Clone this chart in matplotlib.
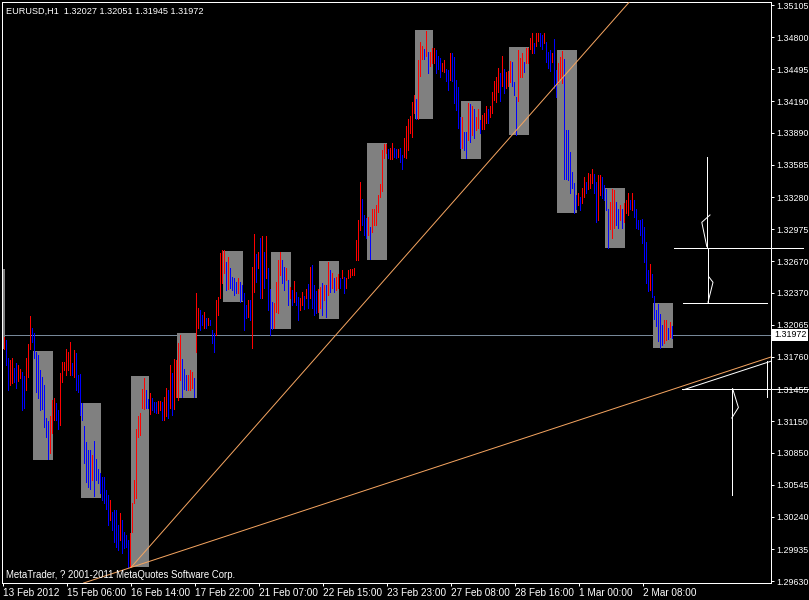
import numpy as np
import matplotlib
matplotlib.use('Agg')
import matplotlib.pyplot as plt
from matplotlib.patches import Rectangle
from matplotlib.transforms import blended_transform_factory

plt.rcParams['font.family'] = ['Liberation Sans', 'DejaVu Sans']

# hourly bars EURUSD H1 (highs / lows), index 0 = first visible bar
highs = [
    1.3195, 1.3192, 1.3175, 1.3173, 1.3175, 1.3166, 1.3170, 1.3168, 1.3165, 1.3162,
    1.3158, 1.3175, 1.3188, 1.3215, 1.3204, 1.3199, 1.3181, 1.3178, 1.3164, 1.3157,
    1.3149, 1.3118, 1.3115, 1.3120, 1.3135, 1.3137, 1.3132, 1.3126, 1.3161, 1.3171,
    1.3171, 1.3184, 1.3181, 1.3190, 1.3170, 1.3183, 1.3180, 1.3159, 1.3160, 1.3132,
    1.3110, 1.3095, 1.3088, 1.3088, 1.3083, 1.3096, 1.3079, 1.3070, 1.3066, 1.3062,
    1.3062, 1.3050, 1.3045, 1.3040, 1.3029, 1.3031, 1.3031, 1.3016, 1.3028, 1.3021,
    1.3010, 1.3007, 1.3002, 1.3009, 1.3037, 1.3059, 1.3108, 1.3120, 1.3123, 1.3146,
    1.3156, 1.3145, 1.3136, 1.3142, 1.3137, 1.3133, 1.3133, 1.3134, 1.3134, 1.3133,
    1.3138, 1.3147, 1.3145, 1.3168, 1.3161, 1.3174, 1.3173, 1.3189, 1.3197, 1.3174,
    1.3165, 1.3159, 1.3159, 1.3164, 1.3162, 1.3156, 1.3237, 1.3223, 1.3221, 1.3216,
    1.3219, 1.3213, 1.3213, 1.3211, 1.3202, 1.3199, 1.3230, 1.3233, 1.3275, 1.3278,
    1.3278, 1.3266, 1.3271, 1.3261, 1.3252, 1.3251, 1.3247, 1.3251, 1.3247, 1.3244,
    1.3237, 1.3225, 1.3230, 1.3230, 1.3262, 1.3293, 1.3274, 1.3276, 1.3289, 1.3291,
    1.3276, 1.3291, 1.3261, 1.3241, 1.3228, 1.3227, 1.3247, 1.3268, 1.3276, 1.3268,
    1.3262, 1.3261, 1.3249, 1.3243, 1.3240, 1.3248, 1.3238, 1.3233, 1.3232, 1.3238,
    1.3234, 1.3241, 1.3245, 1.3262, 1.3263, 1.3244, 1.3239, 1.3241, 1.3243, 1.3246,
    1.3244, 1.3244, 1.3266, 1.3259, 1.3256, 1.3251, 1.3252, 1.3255, 1.3251, 1.3259,
    1.3252, 1.3251, 1.3259, 1.3260, 1.3260, 1.3261, 1.3287, 1.3306, 1.3342, 1.3326,
    1.3311, 1.3308, 1.3309, 1.3300, 1.3317, 1.3317, 1.3320, 1.3330, 1.3340, 1.3373,
    1.3378, 1.3378, 1.3374, 1.3375, 1.3379, 1.3375, 1.3374, 1.3374, 1.3375, 1.3368,
    1.3384, 1.3396, 1.3402, 1.3405, 1.3418, 1.3425, 1.3421, 1.3458, 1.3475, 1.3472,
    1.3469, 1.3486, 1.3466, 1.3466, 1.3470, 1.3470, 1.3468, 1.3462, 1.3460, 1.3455,
    1.3458, 1.3450, 1.3449, 1.3465, 1.3465, 1.3461, 1.3439, 1.3433, 1.3404, 1.3404,
    1.3390, 1.3390, 1.3417, 1.3416, 1.3415, 1.3412, 1.3404, 1.3412, 1.3401, 1.3406,
    1.3408, 1.3415, 1.3412, 1.3415, 1.3428, 1.3438, 1.3442, 1.3451, 1.3446, 1.3462,
    1.3450, 1.3447, 1.3448, 1.3457, 1.3456, 1.3437, 1.3423, 1.3468, 1.3460, 1.3465,
    1.3456, 1.3470, 1.3470, 1.3479, 1.3484, 1.3474, 1.3484, 1.3484, 1.3484, 1.3482,
    1.3484, 1.3475, 1.3466, 1.3468, 1.3465, 1.3478, 1.3449, 1.3455, 1.3461, 1.3467,
    1.3459, 1.3392, 1.3392, 1.3371, 1.3352, 1.3341, 1.3330, 1.3332, 1.3328, 1.3337,
    1.3347, 1.3342, 1.3351, 1.3350, 1.3355, 1.3350, 1.3342, 1.3349, 1.3349, 1.3347,
    1.3339, 1.3336, 1.3317, 1.3323, 1.3336, 1.3335, 1.3323, 1.3317, 1.3320, 1.3317,
    1.3322, 1.3325, 1.3332, 1.3325, 1.3332, 1.3325, 1.3317, 1.3306, 1.3306, 1.3307,
    1.3300, 1.3285, 1.3259, 1.3264, 1.3255, 1.3234, 1.3221, 1.3226, 1.3217, 1.3206,
    1.3211, 1.3211, 1.3204, 1.3209, 1.32051]
lows = [
    1.3184, 1.3168, 1.3145, 1.3149, 1.3151, 1.3152, 1.3147, 1.3153, 1.3156, 1.3126,
    1.3128, 1.3145, 1.3157, 1.3184, 1.3190, 1.3175, 1.3143, 1.3137, 1.3126, 1.3127,
    1.3109, 1.3100, 1.3079, 1.3085, 1.3104, 1.3116, 1.3116, 1.3108, 1.3111, 1.3152,
    1.3164, 1.3159, 1.3164, 1.3159, 1.3159, 1.3157, 1.3145, 1.3143, 1.3121, 1.3116,
    1.3075, 1.3057, 1.3052, 1.3051, 1.3059, 1.3044, 1.3059, 1.3056, 1.3047, 1.3040,
    1.3037, 1.3032, 1.3016, 1.3021, 1.3012, 1.3000, 1.2995, 1.2993, 1.3002, 1.2990,
    1.2994, 1.2995, 1.2976, 1.2976, 1.3010, 1.3037, 1.3042, 1.3100, 1.3102, 1.3128,
    1.3127, 1.3128, 1.3128, 1.3122, 1.3126, 1.3124, 1.3123, 1.3123, 1.3126, 1.3116,
    1.3116, 1.3120, 1.3118, 1.3128, 1.3121, 1.3127, 1.3138, 1.3135, 1.3154, 1.3138,
    1.3146, 1.3145, 1.3145, 1.3145, 1.3147, 1.3138, 1.3181, 1.3204, 1.3202, 1.3206,
    1.3204, 1.3204, 1.3206, 1.3206, 1.3189, 1.3181, 1.3197, 1.3216, 1.3232, 1.3246,
    1.3256, 1.3240, 1.3241, 1.3242, 1.3240, 1.3235, 1.3237, 1.3237, 1.3228, 1.3230,
    1.3202, 1.3213, 1.3214, 1.3211, 1.3185, 1.3238, 1.3247, 1.3261, 1.3232, 1.3232,
    1.3242, 1.3251, 1.3221, 1.3197, 1.3203, 1.3204, 1.3219, 1.3218, 1.3254, 1.3246,
    1.3240, 1.3249, 1.3225, 1.3232, 1.3225, 1.3228, 1.3225, 1.3211, 1.3221, 1.3225,
    1.3222, 1.3232, 1.3223, 1.3232, 1.3223, 1.3216, 1.3218, 1.3219, 1.3223, 1.3216,
    1.3230, 1.3214, 1.3235, 1.3238, 1.3242, 1.3238, 1.3240, 1.3242, 1.3242, 1.3251,
    1.3237, 1.3242, 1.3251, 1.3252, 1.3254, 1.3254, 1.3268, 1.3268, 1.3297, 1.3301,
    1.3292, 1.3289, 1.3292, 1.3269, 1.3295, 1.3301, 1.3301, 1.3314, 1.3328, 1.3334,
    1.3365, 1.3370, 1.3365, 1.3364, 1.3364, 1.3366, 1.3365, 1.3366, 1.3361, 1.3355,
    1.3366, 1.3365, 1.3373, 1.3389, 1.3385, 1.3408, 1.3402, 1.3402, 1.3443, 1.3459,
    1.3459, 1.3462, 1.3446, 1.3453, 1.3455, 1.3455, 1.3446, 1.3450, 1.3442, 1.3448,
    1.3447, 1.3438, 1.3430, 1.3439, 1.3438, 1.3417, 1.3411, 1.3394, 1.3375, 1.3375,
    1.3373, 1.3365, 1.3382, 1.3380, 1.3387, 1.3384, 1.3392, 1.3394, 1.3389, 1.3393,
    1.3393, 1.3398, 1.3398, 1.3404, 1.3408, 1.3420, 1.3418, 1.3428, 1.3419, 1.3434,
    1.3427, 1.3432, 1.3434, 1.3437, 1.3434, 1.3425, 1.3387, 1.3419, 1.3442, 1.3442,
    1.3447, 1.3455, 1.3455, 1.3469, 1.3465, 1.3465, 1.3472, 1.3476, 1.3472, 1.3469,
    1.3474, 1.3456, 1.3451, 1.3448, 1.3456, 1.3432, 1.3423, 1.3436, 1.3441, 1.3436,
    1.3345, 1.3345, 1.3344, 1.3332, 1.3337, 1.3313, 1.3317, 1.3320, 1.3316, 1.3322,
    1.3328, 1.3332, 1.3336, 1.3337, 1.3341, 1.3332, 1.3304, 1.3306, 1.3330, 1.3327,
    1.3325, 1.3316, 1.3280, 1.3298, 1.3289, 1.3299, 1.3301, 1.3299, 1.3306, 1.3299,
    1.3304, 1.3313, 1.3311, 1.3317, 1.3316, 1.3309, 1.3299, 1.3298, 1.3292, 1.3284,
    1.3266, 1.3246, 1.3239, 1.3240, 1.3233, 1.3212, 1.3205, 1.3191, 1.3185, 1.3187,
    1.3189, 1.3192, 1.3193, 1.3195, 1.31945]

# session boxes: first bar, last bar, top, bottom
box_start = [-10, 15, 39, 64, 87, 110, 134, 158, 182, 206, 229, 253, 277, 301, 325]
box_end   = [0, 24, 48, 72, 96, 119, 143, 167, 191, 214, 238, 262, 286, 310, 334]
box_top   = [1.3260, 1.3182, 1.3132, 1.3158, 1.3199, 1.3277, 1.3276, 1.3267, 1.3379,
             1.3487, 1.3419, 1.3471, 1.3468, 1.3337, 1.3227]
box_bot   = [1.3184, 1.3078, 1.3042, 1.2976, 1.3137, 1.3228, 1.3203, 1.3212, 1.3268,
             1.3402, 1.3364, 1.3387, 1.3313, 1.3280, 1.3185]

last_price = 1.31972
title_txt = 'EURUSD,H1  1.32027 1.32051 1.31945 1.31972'
copy_txt = 'MetaTrader, ? 2001-2011 MetaQuotes Software Corp.'

price_ticks = [1.35105, 1.34800, 1.34495, 1.34190, 1.33890, 1.33585, 1.33280, 1.32975,
               1.32670, 1.32370, 1.32065, 1.31760, 1.31455, 1.31150, 1.30850, 1.30545,
               1.30240, 1.29935, 1.29630]
time_labels = ['13 Feb 2012', '15 Feb 06:00', '16 Feb 14:00', '17 Feb 22:00', '21 Feb 07:00',
               '22 Feb 15:00', '23 Feb 23:00', '27 Feb 08:00', '28 Feb 16:00', '1 Mar 00:00',
               '2 Mar 08:00']
time_ticks = [-0.35 + 32 * k for k in range(len(time_labels))]

# trend lines from the 16 Feb low
fan_origin = (63.5, 1.2976)
fan_steep = (223.0, 1.3320)
fan_flat = (383.5, 1.3176)

# hand drawn white lines (bar, price)
w_hlines = [(335, 399.5, 1.3280), (339.5, 381.5, 1.3227), (339, 402.5, 1.31455)]
w_vlines = [(351.5, 1.3366, 1.3280), (352, 1.3280, 1.3227), (364, 1.31455, 1.3045),
            (381.5, 1.3172, 1.3138)]
w_kinks = [([353, 348.9, 351.4], [1.3311, 1.3304, 1.3281]),
           ([352.5, 354.5, 352], [1.3252, 1.3247, 1.3228]),
           ([364.3, 367.2, 363.9], [1.3146, 1.3128, 1.3118]),
           ([340, 383.5], [1.3145, 1.3172])]

W, H = 809, 600
fig = plt.figure(figsize=(W / 100, H / 100), dpi=100)
fig.patch.set_facecolor('black')
ax = fig.add_axes([2 / W, 17 / H, 769 / W, 581 / H])
ax.set_facecolor('black')
ax.set_xlim(-1, 383.5)
ax.set_ylim(1.29612, 1.35134)

px = 0.72  # one pixel in points
hi = np.array(highs)
lo = np.array(lows)
x = np.arange(len(hi))
mid = (hi + lo) / 2
up = np.r_[True, mid[1:] >= mid[:-1]]
cols = np.where(up, '#FF0000', '#0000FF')

ax.axhline(last_price, color='#778899', lw=px, zorder=1)
for s, e, t, b in zip(box_start, box_end, box_top, box_bot):
    ax.add_patch(Rectangle((s - 0.5, b), e - s + 1, t - b, facecolor='#808080',
                           edgecolor='none', zorder=2))
ax.vlines(x, lo, hi, colors=cols, lw=px, antialiased=False, zorder=3)

orange = '#F4A460'
k = (fan_steep[1] - fan_origin[1]) / (fan_steep[0] - fan_origin[0])
ax.plot([fan_origin[0], 400], [fan_origin[1], fan_origin[1] + k * (400 - fan_origin[0])],
        color=orange, lw=px, zorder=4)
ax.axline(fan_origin, fan_flat, color=orange, lw=px, zorder=4)

for x0, x1, p in w_hlines:
    ax.plot([x0, x1], [p, p], color='white', lw=px, clip_on=False, zorder=5)
for xv, p0, p1 in w_vlines:
    ax.plot([xv, xv], [p0, p1], color='white', lw=px, zorder=5)
for xs, ps in w_kinks:
    ax.plot(xs, ps, color='white', lw=px, zorder=5)

for sp in ax.spines.values():
    sp.set_color('white')
    sp.set_linewidth(px)

ax.yaxis.tick_right()
ax.set_yticks(price_ticks)
ax.set_yticklabels([f'{p:.5f}' for p in price_ticks])
ax.tick_params(axis='y', colors='white', length=2.2, width=px, pad=1.5, labelsize=6.4)
ax.set_xticks(time_ticks)
ax.set_xticklabels(time_labels, ha='left')
ax.tick_params(axis='x', colors='white', length=2.2, width=px, pad=1.5, labelsize=7.2)

tr = blended_transform_factory(ax.transAxes, ax.transData)
ax.text(1.0 + 3 / 769, last_price, f'{last_price:.5f}', transform=tr, color='black',
        fontsize=6.4, va='center', ha='left', clip_on=False, zorder=6,
        bbox=dict(facecolor='white', edgecolor='none', pad=1.2))

fig.text(6 / W, 1 - 14 / H, title_txt, color='white', fontsize=6.6, va='baseline')
fig.text(6 / W, 1 - 578 / H, copy_txt, color='white', fontsize=6.9, va='baseline')

fig.savefig('out.png', dpi=100, facecolor='black')
